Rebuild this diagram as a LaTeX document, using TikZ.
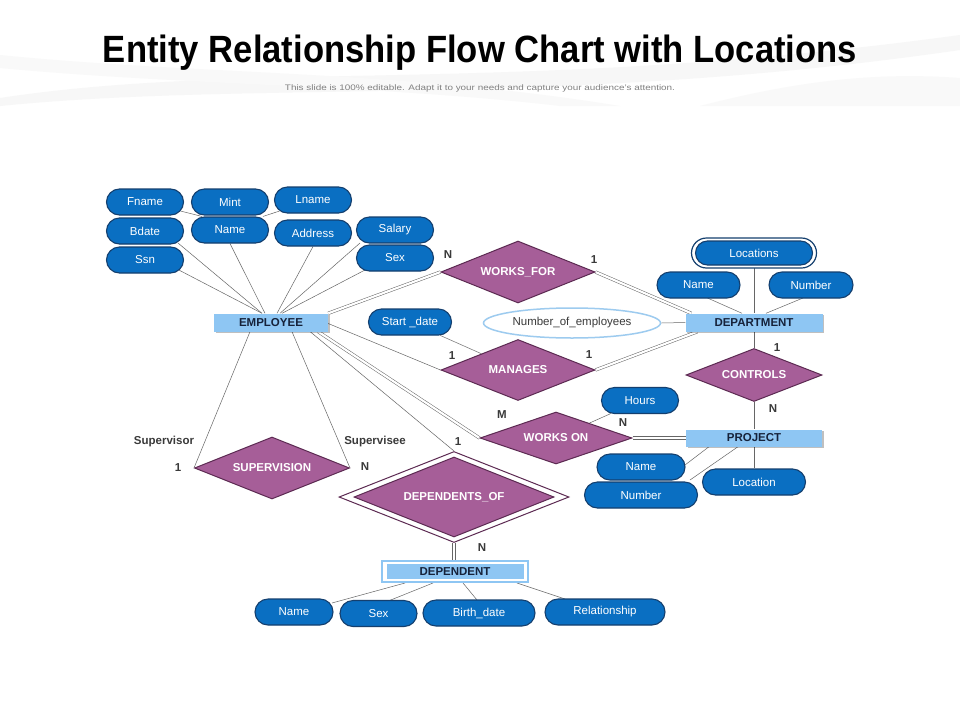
\documentclass[tikz,border=0pt]{standalone}
\usepackage{fontspec}
\setmainfont{Liberation Sans}
\usepackage{graphicx}
\usetikzlibrary{shapes.geometric,shapes.misc,shadows,calc}
\pgfdeclarelayer{bg}
\pgfdeclarelayer{edges}
\pgfsetlayers{bg,edges,main}
\definecolor{pillblue}{HTML}{0A6FC2}
\definecolor{pillborder}{HTML}{143F6E}
\definecolor{relfill}{HTML}{A65E98}
\definecolor{relborder}{HTML}{5C2A52}
\definecolor{entfill}{HTML}{8EC6F3}
\definecolor{enttext}{HTML}{16223A}
\definecolor{cardtext}{HTML}{3A3A3A}
\definecolor{linegray}{HTML}{666666}
\definecolor{ovalborder}{HTML}{9DCBEF}
\begin{document}
\begin{tikzpicture}[x=1pt,y=-1pt,
  attr/.style={rounded rectangle, draw=pillborder, fill=pillblue, line width=1.1pt,
    text=white, font=\fontsize{11.5}{13}\selectfont, minimum height=26pt,
    minimum width=77pt, inner sep=0pt},
  rel/.style={diamond, draw=relborder, fill=relfill, line width=1pt, aspect=2.5,
    text=white, font=\bfseries\fontsize{11.5}{13}\selectfont, inner sep=0pt},
  ent/.style={rectangle, fill=entfill, text=enttext, inner sep=0pt,
    font=\bfseries\fontsize{11.5}{13}\selectfont, minimum height=18pt,
    drop shadow={shadow xshift=1.5pt, shadow yshift=-1.5pt, fill=black, opacity=0.25}},
  card/.style={font=\bfseries\fontsize{11.5}{13}\selectfont, text=cardtext, inner sep=0pt},
  ln/.style={draw=linegray, line width=0.5pt},
  dbl/.style={draw=linegray, line width=0.5pt, double=white, double distance=2.2pt}
]
\useasboundingbox (0,0) rectangle (960,720);

% background swooshes
\begin{pgfonlayer}{bg}
  \fill[white] (0,0) rectangle (960,720);
  \fill[black!3] (0,98) .. controls (250,60) and (520,95) .. (960,35)
     -- (960,50) .. controls (560,108) and (260,80) .. (0,106) -- cycle;
  \fill[black!2.5] (0,55) .. controls (200,75) and (400,70) .. (620,106)
     -- (560,106) .. controls (380,85) and (180,85) .. (0,68) -- cycle;
  \fill[black!2.5] (700,106) .. controls (800,80) and (880,72) .. (960,78)
     -- (960,106) -- cycle;
\end{pgfonlayer}

% title
\node[anchor=base, inner sep=0] (title) at (480,62)
  {\resizebox{754pt}{\height}{\fontsize{38}{40}\selectfont\bfseries Entity Relationship Flow Chart with Locations}};
\node[anchor=base, inner sep=0, text=black!50] (subtitle) at (480,90)
  {\resizebox{390pt}{\height}{\fontsize{8}{9}\selectfont This slide is 100\% editable. Adapt it to your needs and capture your audience's attention.}};

% employee attributes
\node[attr] (fname) at (145,202) {Fname};
\node[attr] (mint) at (230,202) {Mint};
\node[attr] (lname) at (313,200) {Lname};
\node[attr] (bdate) at (145,231) {Bdate};
\node[attr] (ename) at (230,230) {Name};
\node[attr] (addr) at (313,233) {Address};
\node[attr] (salary) at (395,230) {Salary};
\node[attr] (esex) at (395,258) {Sex};
\node[attr] (ssn) at (145,260) {Ssn};

% entities
\node[ent, minimum width=114pt] (emp) at (271,322.5) {EMPLOYEE};
\node[ent, minimum width=137pt] (dept) at (754,322.5) {DEPARTMENT};
\node[ent, minimum width=136pt, minimum height=17pt] (proj) at (754,438) {PROJECT};
\node[rectangle, draw=entfill, line width=2pt, fill=white, minimum width=146pt,
  minimum height=21pt, inner sep=0] (depo) at (455,571.5) {};
\node[rectangle, fill=entfill, text=enttext, inner sep=0,
  font=\bfseries\fontsize{11.5}{13}\selectfont, minimum width=137pt,
  minimum height=15pt] (dep) at (455,571.5) {DEPENDENT};

% relationships
\node[rel, minimum width=154pt, minimum height=62pt] (wf) at (518,272) {WORKS\_FOR};
\node[rel, minimum width=154pt, minimum height=61pt] (mg) at (518,370) {MANAGES};
\node[rel, minimum width=136pt, minimum height=53pt] (ctl) at (754,375) {CONTROLS};
\node[rel, minimum width=152pt, minimum height=52pt] (wo) at (556,438) {WORKS ON};
\node[rel, minimum width=155pt, minimum height=62pt] (sup) at (272,468) {SUPERVISION};
\node[diamond, draw=relborder, fill=white, line width=1pt, aspect=2.5, inner sep=0,
  minimum width=230pt, minimum height=91pt] (dofo) at (454,497) {};
\node[rel, minimum width=200pt, minimum height=80pt] (dof) at (454,497) {DEPENDENTS\_OF};

% other attributes
\node[attr, minimum width=83pt] (sd) at (410,322) {Start \_date};
\node[ellipse, draw=ovalborder, line width=1.5pt, fill=white, text=cardtext,
  font=\fontsize{11.5}{13}\selectfont, minimum width=177pt, minimum height=30pt,
  inner sep=0] (noe) at (572,323) {Number\_of\_employees};
\node[rounded rectangle, draw=pillborder, line width=1.2pt, fill=white,
  minimum width=125pt, minimum height=30pt, inner sep=0] (loco) at (754,253) {};
\node[attr, minimum width=117pt, minimum height=24pt] (loc) at (754,253) {Locations};
\node[attr, minimum width=83pt] (dname) at (698.5,285) {Name};
\node[attr, minimum width=84pt] (dnum) at (811,285) {Number};
\node[attr] (hours) at (640,400.5) {Hours};
\node[attr, minimum width=88pt] (pname) at (641,467) {Name};
\node[attr, minimum width=113pt] (pnum) at (641,495) {Number};
\node[attr, minimum width=103pt] (ploc) at (754,482) {Location};
\node[attr, minimum width=78pt] (dname2) at (294,612) {Name};
\node[attr, minimum width=77pt] (dsex) at (378.5,613.5) {Sex};
\node[attr, minimum width=112pt] (dbirth) at (479,613) {Birth\_date};
\node[attr, minimum width=120pt] (drel) at (605,612) {Relationship};

% cardinality and role labels
\node[card] (c1) at (448,255) {N};
\node[card] (c2) at (594,260) {1};
\node[card] (c3) at (452,356) {1};
\node[card] (c4) at (589,355) {1};
\node[card] (c5) at (777,348) {1};
\node[card] (c6) at (773,409) {N};
\node[card] (c7) at (502,415) {M};
\node[card] (c8) at (623,423) {N};
\node[card] (c9) at (164,442) {Supervisor};
\node[card] (c10) at (375,442) {Supervisee};
\node[card] (c11) at (178,468) {1};
\node[card] (c12) at (365,467) {N};
\node[card] (c13) at (458,442) {1};
\node[card] (c14) at (482,548) {N};

% connectors
\begin{pgfonlayer}{edges}
  \draw[ln] (fname) -- ($(ename.north)+(-28,0)$);
  \draw[ln] (lname) -- ($(ename.north)+(33,0)$);
  \draw[ln] ($(bdate)+(33,12)$) -- ($(emp.north)+(-9,0)$);
  \draw[ln] ($(ssn)+(30,8)$) -- ($(emp.north)+(-9,0)$);
  \draw[ln] (ename.south) -- ($(emp.north)+(-6,0)$);
  \draw[ln] (addr.south) -- ($(emp.north)+(6,0)$);
  \draw[ln] ($(salary)+(-35,13)$) -- ($(emp.north)+(9,0)$);
  \draw[ln] ($(esex)+(-30,12)$) -- ($(emp.north)+(11,0)$);

  \draw[dbl] (emp.north east) -- (wf.west);
  \draw[dbl] (wf.east) -- ($(dept.north west)+(6,0)$);
  \draw[ln] ($(emp.east)+(0,1)$) -- (mg.west);
  \draw[dbl] (mg.east) -- ($(dept.south west)+(12,0)$);
  \draw[ln] (sd) -- (mg);
  \draw[ln] (noe.east) -- (dept.west);
  \draw[ln] (loc.south) -- (loc.south |- dept.north);
  \draw[ln] ($(dname)+(9,13)$) -- ($(dept.north)+(-12,0)$);
  \draw[ln] ($(dnum)+(-8,13)$) -- ($(dept.north)+(12,0)$);
  \draw[ln] (dept.south) -- (ctl.north);
  \draw[ln] (ctl.south) -- (proj.north);
  \draw[dbl] (wo.east) -- (proj.west);
  \draw[ln] (hours) -- (wo);
  \draw[dbl] ($(emp.south east)+(-10,0)$) -- (wo.west);
  \draw[ln] ($(emp.south east)+(-18,0)$) -- (dofo.north);
  \draw[ln] ($(emp.south)+(-21,0)$) -- (sup.west);
  \draw[ln] ($(emp.south)+(21,0)$) -- (sup.east);
  \draw[ln] ($(proj.south)+(-45,0)$) -- ($(pname)+(44,-2)$);
  \draw[ln] ($(proj.south)+(-16,0)$) -- ($(pnum)+(49,-15)$);
  \draw[ln] (proj.south) -- (ploc.north);
  \draw[dbl] (dofo.south) -- (dofo.south |- depo.north);
  \draw[ln] ($(depo.south)+(-50,0)$) -- ($(dname2)+(38,-9)$);
  \draw[ln] ($(depo.south)+(-22,0)$) -- ($(dsex)+(11,-13)$);
  \draw[ln] ($(depo.south)+(8,0)$) -- ($(dbirth)+(-2,-13)$);
  \draw[ln] ($(depo.south)+(62,0)$) -- ($(drel)+(-40,-13)$);
\end{pgfonlayer}
\end{tikzpicture}
\end{document}
